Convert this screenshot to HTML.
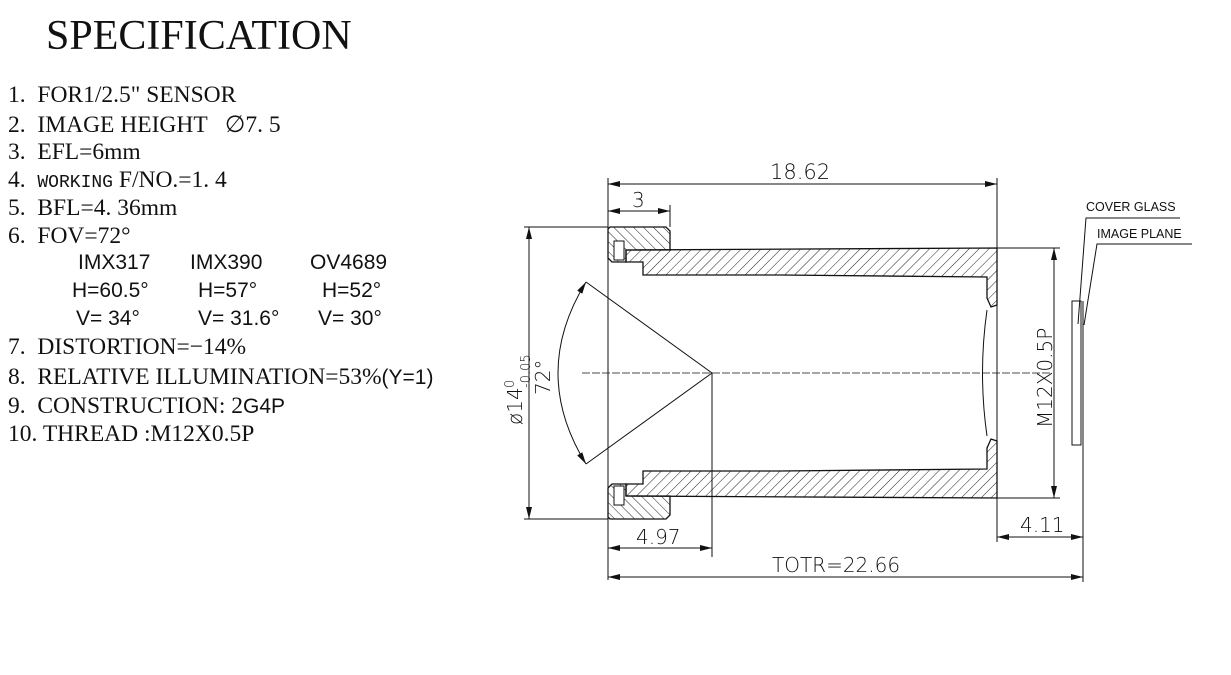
<!DOCTYPE html>
<html><head><meta charset="utf-8"><style>
body{margin:0;background:#fff;width:1231px;height:675px;overflow:hidden;position:relative;font-family:"Liberation Serif",serif;color:#111}
.t{position:absolute;white-space:nowrap}
.l{font-size:23.5px;left:8px}
.s{font-family:"Liberation Sans",sans-serif;font-size:21px}
</style></head><body>
<div class="t" style="left:46px;top:12px;font-size:42px">SPECIFICATION</div>
<div class="t l" style="top:82px">1.&nbsp; FOR1/2.5" SENSOR</div>
<div class="t l" style="top:110px">2.&nbsp; IMAGE HEIGHT &nbsp; ∅7. 5</div>
<div class="t l" style="top:139px">3.&nbsp; EFL=6mm</div>
<div class="t l" style="top:167px">4.&nbsp; <span style="font-family:'Liberation Mono',monospace;font-size:18px">WORKING</span> F/NO.=1. 4</div>
<div class="t l" style="top:195px">5.&nbsp; BFL=4. 36mm</div>
<div class="t l" style="top:223px">6.&nbsp; FOV=72°</div>
<div class="t s" style="left:78px;top:251px">IMX317</div>
<div class="t s" style="left:190px;top:251px">IMX390</div>
<div class="t s" style="left:310px;top:251px">OV4689</div>
<div class="t s" style="left:72px;top:279px">H=60.5°</div>
<div class="t s" style="left:198px;top:279px">H=57°</div>
<div class="t s" style="left:322px;top:279px">H=52°</div>
<div class="t s" style="left:76px;top:307px">V= 34°</div>
<div class="t s" style="left:198px;top:307px">V= 31.6°</div>
<div class="t s" style="left:318px;top:307px">V= 30°</div>
<div class="t l" style="top:334px">7.&nbsp; DISTORTION=−14%</div>
<div class="t l" style="top:364px">8.&nbsp; RELATIVE ILLUMINATION=53%<span class="s">(Y=1)</span></div>
<div class="t l" style="top:393px">9.&nbsp; CONSTRUCTION: 2<span class="s">G4P</span></div>
<div class="t l" style="top:421px">10. THREAD :M12X0.5P</div>
<svg width="1231" height="675" style="position:absolute;left:0;top:0" font-family="Liberation Sans,sans-serif">
<defs>
<pattern id="h1" width="7" height="7" patternUnits="userSpaceOnUse" patternTransform="rotate(45)"><line x1="0" y1="0" x2="0" y2="7" stroke="#222" stroke-width="1"/></pattern>
<pattern id="h2" width="7" height="7" patternUnits="userSpaceOnUse" patternTransform="rotate(-45)"><line x1="0" y1="0" x2="0" y2="7" stroke="#222" stroke-width="1"/></pattern>
<marker id="a" markerWidth="12" markerHeight="6" refX="12" refY="3" orient="auto" markerUnits="userSpaceOnUse"><path d="M0,0 L12,3 L0,6 z" fill="#111"/></marker>
<marker id="b" markerWidth="12" markerHeight="6" refX="0" refY="3" orient="auto" markerUnits="userSpaceOnUse"><path d="M12,0 L0,3 L12,6 z" fill="#111"/></marker>
</defs>
<g fill="none" stroke="#111" stroke-width="1">
<g>
<polygon points="626,250 997,248 997,305 991,307 987,298 987,277 780,275 643,275 643,262 626,262" fill="url(#h1)" stroke="#111" stroke-width="1.3"/>
<polygon points="610,227 666,227 670,231 670,250 626,250 626,262 612,262 608,258 608,229" fill="url(#h2)" stroke="#111" stroke-width="1.3"/>
<rect x="614" y="241" width="10" height="19" fill="#fff" stroke="#111"/>
</g>
<g transform="matrix(1,0,0,-1,0,746)">
<polygon points="626,250 997,248 997,305 991,307 987,298 987,277 780,275 643,275 643,262 626,262" fill="url(#h2)" stroke="#111" stroke-width="1.3"/>
<polygon points="610,227 666,227 670,231 670,250 626,250 626,262 612,262 608,258 608,229" fill="url(#h1)" stroke="#111" stroke-width="1.3"/>
<rect x="614" y="241" width="10" height="19" fill="#fff" stroke="#111"/>
</g>
<path d="M987,310 Q978,373 987,436" />
<line x1="582" y1="373" x2="1050" y2="373" stroke-dasharray="8,2" stroke-width="0.8"/>
<line x1="608" y1="178" x2="608" y2="580"/>
<line x1="997" y1="178" x2="997" y2="542"/>
<line x1="670" y1="205" x2="670" y2="227"/>
<line x1="608" y1="184" x2="997" y2="184" marker-start="url(#b)" marker-end="url(#a)"/>
<line x1="608" y1="211" x2="670" y2="211" marker-start="url(#b)" marker-end="url(#a)"/>
<line x1="524" y1="227" x2="608" y2="227"/>
<line x1="524" y1="519" x2="608" y2="519"/>
<line x1="529" y1="227" x2="529" y2="519" marker-start="url(#b)" marker-end="url(#a)"/>
<line x1="997" y1="248" x2="1060" y2="248"/>
<line x1="997" y1="498" x2="1060" y2="498"/>
<line x1="1054" y1="248" x2="1054" y2="498" marker-start="url(#b)" marker-end="url(#a)"/>
<polyline points="586,282 712,373 586,464"/>
<path d="M586,282 Q530,373 586,464" marker-start="url(#b)" marker-end="url(#a)"/>
<line x1="712" y1="373" x2="712" y2="557"/>
<line x1="608" y1="548" x2="712" y2="548" marker-start="url(#b)" marker-end="url(#a)"/>
<rect x="1072" y="301" width="9" height="144"/>
<line x1="1083" y1="301" x2="1083" y2="582"/>
<line x1="997" y1="537" x2="1083" y2="537" marker-start="url(#b)" marker-end="url(#a)"/>
<line x1="608" y1="577" x2="1083" y2="577" marker-start="url(#b)" marker-end="url(#a)"/>
<polyline points="1078,324 1086,218 1180,218"/>
<polyline points="1084,325 1097,244 1192,244"/>
</g>
<g fill="#111" font-size="20" font-family="DejaVu Sans,sans-serif" font-weight="200">
<text x="770" y="179" font-size="21">18.62</text>
<text x="632" y="207">3</text>
<text x="636" y="544">4.97</text>
<text x="1020" y="532">4.11</text>
<text x="772" y="572">TOTR=22.66</text>
<text transform="translate(1052,428) rotate(-90)">M12X0.5P</text>
<text transform="translate(522,425) rotate(-90)">ø14</text>
<text transform="translate(522,388) rotate(-90)" font-size="13" dy="-8">0</text>
<text transform="translate(530,388) rotate(-90)" font-size="13">-0.05</text>
<text transform="translate(550,395) rotate(-90)">72°</text>
</g>
<g fill="#111" font-size="12.5">
<text x="1086" y="211">COVER GLASS</text>
<text x="1097" y="238">IMAGE PLANE</text>
</g>
</svg>
</body></html>
